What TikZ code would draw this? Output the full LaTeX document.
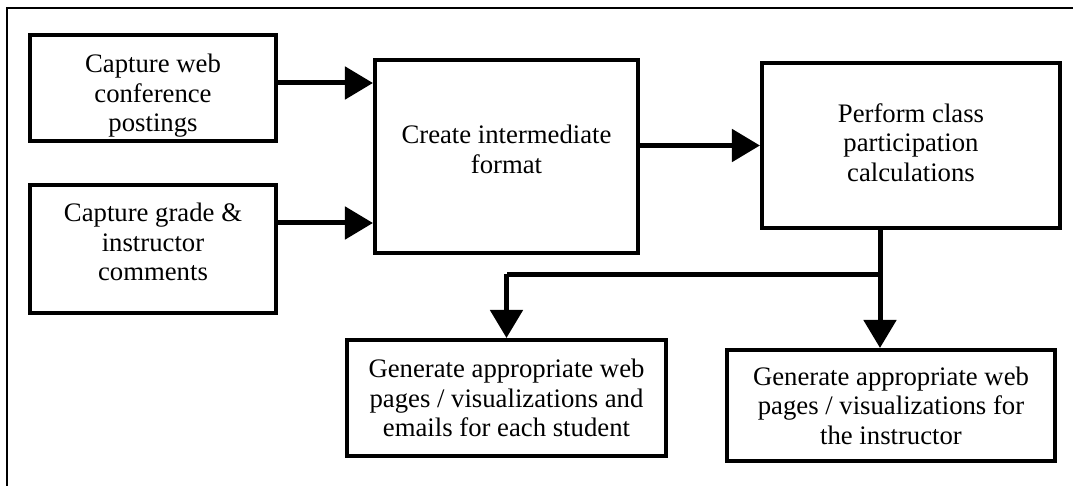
\documentclass[tikz,border=0pt]{standalone}
\usepackage{fontspec}
\setmainfont{Liberation Serif}
\usetikzlibrary{arrows.meta, calc}

\tikzset{
  txt/.style={align=center, inner sep=0pt, font=\fontsize{19pt}{21pt}\selectfont},
  stage/.style={draw, line width=0.1cm, txt},
  flow/.style={line width=0.125cm},
  flowarr/.style={flow, -{Triangle[length=0.7cm, width=0.8cm]}}
}

\begin{document}
\begin{tikzpicture}[x=0.025cm, y=-0.025cm]
\useasboundingbox (0,0) rectangle (1073,486);
\draw [line width=0.05cm] (7,486) -- (7,8) -- (1073,8);
% inputs (text sits a bit off centre in these boxes)
\node [stage, minimum width=6.15cm, minimum height=2.65cm,
  label={[txt, yshift=-0.2cm]center:{Capture web\\conference\\postings}}] (web) at (153,88) {};
\node [stage, minimum width=6.15cm, minimum height=3.2cm,
  label={[txt, yshift=0.175cm]center:{Capture grade \&\\instructor\\comments}}] (grade) at (153,249) {};
% processing
\node [stage, minimum width=6.575cm, minimum height=4.825cm,
  label={[txt, yshift=0.175cm]center:{Create intermediate\\format}}] (fmt) at (506.5,156.5) {};
\node [stage, minimum width=7.45cm, minimum height=4.125cm,
  label={[txt, yshift=0.075cm]center:{Perform class\\participation\\calculations}}] (calc) at (911,145.5) {};
% outputs
\node [stage, minimum width=7.975cm, minimum height=2.9cm] (stud) at (506.5,398)
  {Generate appropriate web\\pages / visualizations and\\emails for each student};
\node [stage, minimum width=8.2cm, minimum height=2.775cm] (instr) at (891,405.5)
  {Generate appropriate web\\pages / visualizations for\\the instructor};
\draw [flowarr] ([yshift=0.125cm]web.east) -- ([yshift=0.125cm]web.east -| fmt.west);
\draw [flowarr] ([yshift=-1cm]grade.north east) -- ([yshift=-1cm]grade.north east -| fmt.west);
\draw [flowarr] (calc.west -| fmt.east) -- (calc.west);
% split below the calculations
\coordinate (split) at ($(calc.south)+(-31,44)$);
\draw [flow] (split |- calc.south) -- (split) -- (split -| stud.north);
\draw [flowarr] (split -| stud.north) -- (stud.north);
\draw [flowarr] (split) -- (split |- instr.north);
\end{tikzpicture}
\end{document}
